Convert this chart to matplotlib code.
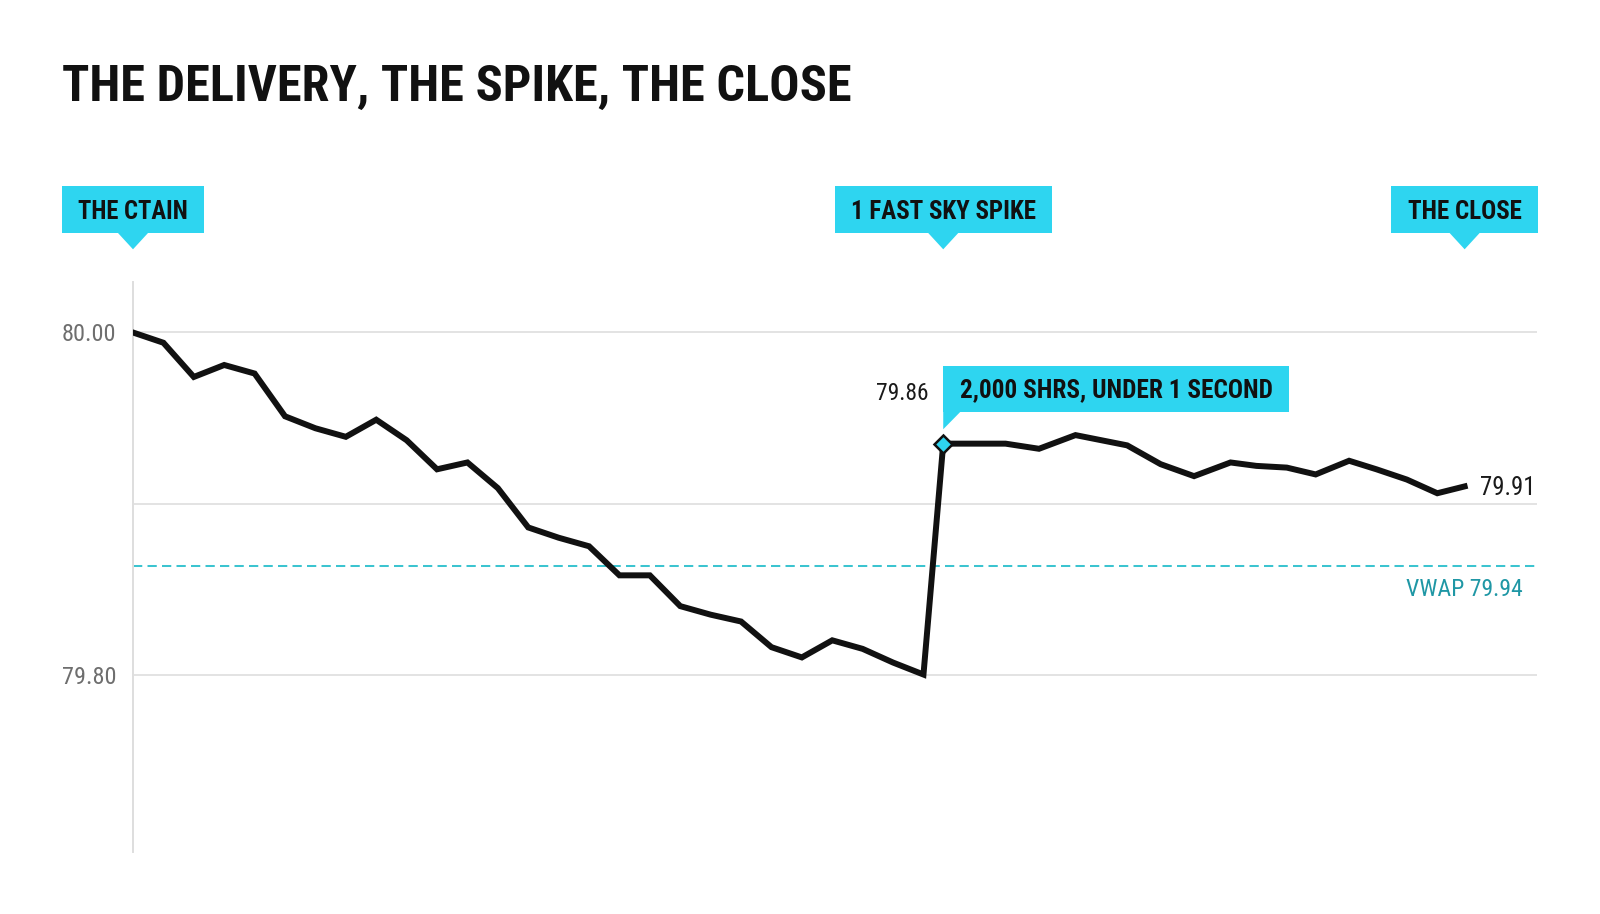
import numpy as np
import matplotlib
matplotlib.use('Agg')
import matplotlib.pyplot as plt
from matplotlib import font_manager as fm
from matplotlib.textpath import TextPath
from matplotlib.patches import Rectangle, Polygon
from matplotlib.transforms import IdentityTransform

# price path before the spike (one point per trade step)
pre_x = list(range(27))
pre_price = [80.000, 79.994, 79.974, 79.981, 79.976, 79.951, 79.944, 79.939, 79.949, 79.937,
             79.920, 79.924, 79.909, 79.886, 79.880, 79.875, 79.858, 79.858, 79.840, 79.835,
             79.831, 79.816, 79.810, 79.820, 79.815, 79.807, 79.800]
# spike and after
post_x = [26.65, 27.7, 28.7, 29.8, 31.0, 31.85, 32.7, 33.8, 34.9, 36.1, 36.95, 37.95,
          38.9, 40.0, 40.9, 41.9, 42.9, 43.8]
post_price = [79.935, 79.935, 79.935, 79.932, 79.940, 79.937, 79.934, 79.923, 79.916, 79.924,
              79.922, 79.921, 79.917, 79.925, 79.920, 79.914, 79.906, 79.910]
vwap = 79.8635

grid_vals = [79.80, 79.90, 80.00]
tick_labels = ['79.80', '', '80.00']
title = 'THE DELIVERY, THE SPIKE, THE CLOSE'
phase_labels = ['THE CTAIN', '1 FAST SKY SPIKE', 'THE CLOSE']
spike_note = '2,000 SHRS, UNDER 1 SECOND'
spike_label = '79.86'
close_label = '79.91'
vwap_label = 'VWAP 79.94'

CYAN = '#2ed5f0'
INK = '#111111'
GRID = '#dedede'
TEAL_LINE = '#3cc4d0'
TEAL_TEXT = '#1f97a5'

names = {f.name for f in fm.fontManager.ttflist}
cond = 'Roboto Condensed' if 'Roboto Condensed' in names else 'DejaVu Sans'
reg = fm.FontProperties(family=cond)
bold = fm.FontProperties(family=cond, weight='bold')


def ink(prop, s):
    # ink box of the string at 100 px
    return TextPath((0, 0), s, size=100, prop=prop).get_extents()


def fit(prop, s, width_px):
    # font size that gives the string the wanted ink width; returns props and cap height (px)
    size_px = width_px / ink(prop, s).width * 100
    p = prop.copy()
    p.set_size(size_px * 72 / 100.0)
    cap = ink(prop, 'H').height / 100 * size_px
    return p, cap


fig = plt.figure(figsize=(16, 9.14), dpi=100)
W, H = 1600, 914
ax = fig.add_axes([133 / W, 1 - 851.7 / H, (1537 - 133) / W, (851.7 - 281.7) / H])
ax.patch.set_alpha(0)
ax.set_xlim(0, 46.18)
ax.set_ylim(79.6964, 80.0297)

for g in grid_vals:
    ax.axhline(g, color=GRID, lw=1.2, zorder=1)
for s in ['top', 'right', 'bottom']:
    ax.spines[s].set_visible(False)
ax.spines['left'].set_color(GRID)
ax.spines['left'].set_linewidth(1.4)
ax.set_xticks([])
ax.set_yticks(grid_vals)
ax.set_yticklabels(tick_labels)
ax.tick_params(axis='y', length=0, pad=12.2, colors='#6e6e6e')
tick_prop, _ = fit(reg, '80.00', 51.5)
for t in ax.get_yticklabels():
    t.set_fontproperties(tick_prop)

ax.axhline(vwap, color=TEAL_LINE, lw=1.45, dashes=(4.6, 2.6), zorder=2)

xs = pre_x + post_x
ys = pre_price + post_price
ax.plot(xs, ys, color=INK, lw=4.3, solid_joinstyle='miter', zorder=3)
ax.plot(post_x[0], post_price[0], marker='D', ms=9.5, mfc=CYAN, mec=INK, mew=1.8, zorder=4)

rend = fig.canvas.get_renderer()
ident = IdentityTransform()


def px_text(x, cy, s, prop, width_px, ha='left', color=INK):
    p, cap = fit(prop, s, width_px)
    t = fig.text(x, cy - cap / 2, s, fontproperties=p, ha=ha, va='baseline',
                 color=color, transform=ident, zorder=6)
    return t


def box(x0, y0, w, h, pointer):
    fig.add_artist(Rectangle((x0, y0), w, h, fc=CYAN, ec='none', transform=ident, zorder=5))
    fig.add_artist(Polygon(pointer, closed=True, fc=CYAN, ec='none', transform=ident, zorder=5))


# title
px_text(62.5, H - 83.5, title, bold, 786)

# phase callouts above the chart
phase_x = [pre_x[0], post_x[0], post_x[-1]]
phase_w = [108, 183, 113]
for lab, xv, tw in zip(phase_labels, phase_x, phase_w):
    cx = ax.transData.transform((xv, vwap))[0]
    px_text(cx, H - 210, lab, bold, tw, ha='center')
    box(cx - tw / 2 - 17, H - 233, tw + 34, 47,
        [(cx - 15, H - 233), (cx + 15, H - 233), (cx, H - 249.3)])

# spike note
sx, sy = ax.transData.transform((post_x[0], post_price[0]))
px_text(sx + 17, sy + 55.2, spike_note, bold, 311)
box(sx, sy + 31.7, 346, 46, [(sx, sy + 31.7), (sx + 17, sy + 31.7), (sx, sy + 14.4)])
px_text(sx - 15, sy + 51.7, spike_label, reg, 50.5, ha='right', color='#1a1a1a')

# close label
ex, ey = ax.transData.transform((post_x[-1], post_price[-1]))
px_text(ex + 15, ey, close_label, reg, 50, color='#1a1a1a')

# vwap label
vx = ax.transData.transform((46.18, vwap))
px_text(vx[0] - 14, vx[1] - 22, vwap_label, reg, 115.5, ha='right', color=TEAL_TEXT)

fig.savefig('out.png', dpi=100)
